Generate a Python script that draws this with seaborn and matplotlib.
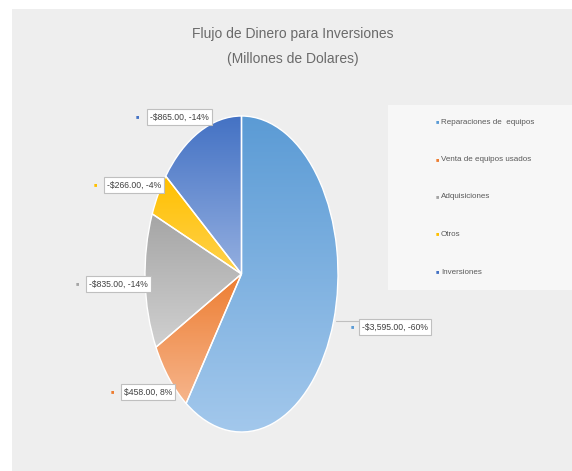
import numpy as np
import matplotlib
matplotlib.use("Agg")
import matplotlib.pyplot as plt
import matplotlib.colors as mcolors
import seaborn as sns

# ---- data ----
categories = ["Reparaciones de  equipos", "Venta de equipos usados", "Adquisiciones", "Otros", "Inversiones"]
values = [3595, 458, 835, 266, 865]
label_texts = ["-$3,595.00, -60%", "$458.00, 8%", "-$835.00, -14%", "-$266.00, -4%", "-$865.00, -14%"]
dark_colors = ["#5b9bd5", "#ed7d31", "#a5a5a5", "#ffc000", "#4472c4"]
light_colors = ["#a3c8ec", "#f6b58c", "#d0d0d0", "#ffd24d", "#94afe0"]

sns.set_theme(style="white")
plt.rcParams["font.family"] = ["Liberation Sans Narrow", "Liberation Sans", "DejaVu Sans"]

W, H = 572, 471
fig = plt.figure(figsize=(W / 100, H / 100), dpi=100)
fig.patch.set_facecolor("white")

# chart background panel
bg = fig.add_axes([12 / W, 0, 1 - 12 / W, 1 - 9 / H])
bg.set_facecolor("#eeeeee")
bg.set_xticks([]); bg.set_yticks([])
for s in bg.spines.values():
    s.set_visible(False)
bg.set_zorder(0)

def px(x, y):
    return x / W, 1 - y / H

# legend panel
leg = fig.add_axes([388 / W, 1 - 290 / H, (W - 388) / W, 185 / H])
leg.set_facecolor("#f7f7f7")
leg.set_xticks([]); leg.set_yticks([])
for s in leg.spines.values():
    s.set_visible(False)

# pie axes (elliptical, as in the reference)
left, right, top, bottom = 145, 338, 116, 432
ax = fig.add_axes([left / W, 1 - bottom / H, (right - left) / W, (bottom - top) / H])
wedges, _ = ax.pie(values, startangle=90, counterclock=False, radius=1,
                   colors=dark_colors,
                   wedgeprops=dict(edgecolor="white", linewidth=1.0))
ax.set_aspect("auto")
ax.set_xlim(-1, 1)
ax.set_ylim(-1, 1)
ax.axis("off")

# gradient fills clipped to wedges
for w, c1, c2 in zip(wedges, dark_colors, light_colors):
    verts = w.get_path().vertices
    tr = w.get_patch_transform()
    pts = tr.transform(verts)
    x0, x1 = pts[:, 0].min(), pts[:, 0].max()
    y0, y1 = pts[:, 1].min(), pts[:, 1].max()
    cmap = mcolors.LinearSegmentedColormap.from_list("g", [c2, c1])
    grad = np.linspace(0, 1, 256).reshape(-1, 1)
    im = ax.imshow(grad, cmap=cmap, extent=(x0, x1, y0, y1), origin="lower",
                   aspect="auto", zorder=w.get_zorder() + 0.1)
    im.set_clip_path(w)
    w.set_facecolor("none")
    w.set_zorder(im.get_zorder() + 0.1)
ax.set_xlim(-1, 1)
ax.set_ylim(-1, 1)
ax.set_aspect("auto")

# title
fig.text(*px(293, 34), "Flujo de Dinero para Inversiones", ha="center", va="center",
         fontsize=10, color="#6a6a6a")
fig.text(*px(293, 59), "(Millones de Dolares)", ha="center", va="center",
         fontsize=10, color="#6a6a6a")

# legend entries
leg_y = [122, 160, 197, 234, 272]
for cat, col, y in zip(categories, dark_colors, leg_y):
    fig.text(*px(437, y), "\u25a0", ha="center", va="center", fontsize=4, color=col)
    fig.text(*px(441, y), cat, ha="left", va="center", fontsize=5.8, color="#595959")

# data labels (positions follow the reference layout)
label_left = [(362, 327), (124, 392), (89, 284), (107, 185), (150, 117)]
marker_x = [352, 112, 77, 95, 137]
for txt, col, (x, y), mx in zip(label_texts, dark_colors, label_left, marker_x):
    fig.text(*px(x, y), txt, ha="left", va="center", fontsize=6.2, color="#404040",
             bbox=dict(boxstyle="square,pad=0.35", fc="white", ec="#bfbfbf", lw=0.8))
    fig.text(*px(mx, y), "\u25a0", ha="center", va="center", fontsize=4, color=col)

# leader line for the large slice
fig.add_artist(plt.Line2D([336 / W, 358 / W], [1 - 321 / H, 1 - 321 / H],
                          color="#bfbfbf", lw=0.8))

fig.savefig("out.png", dpi=100)
